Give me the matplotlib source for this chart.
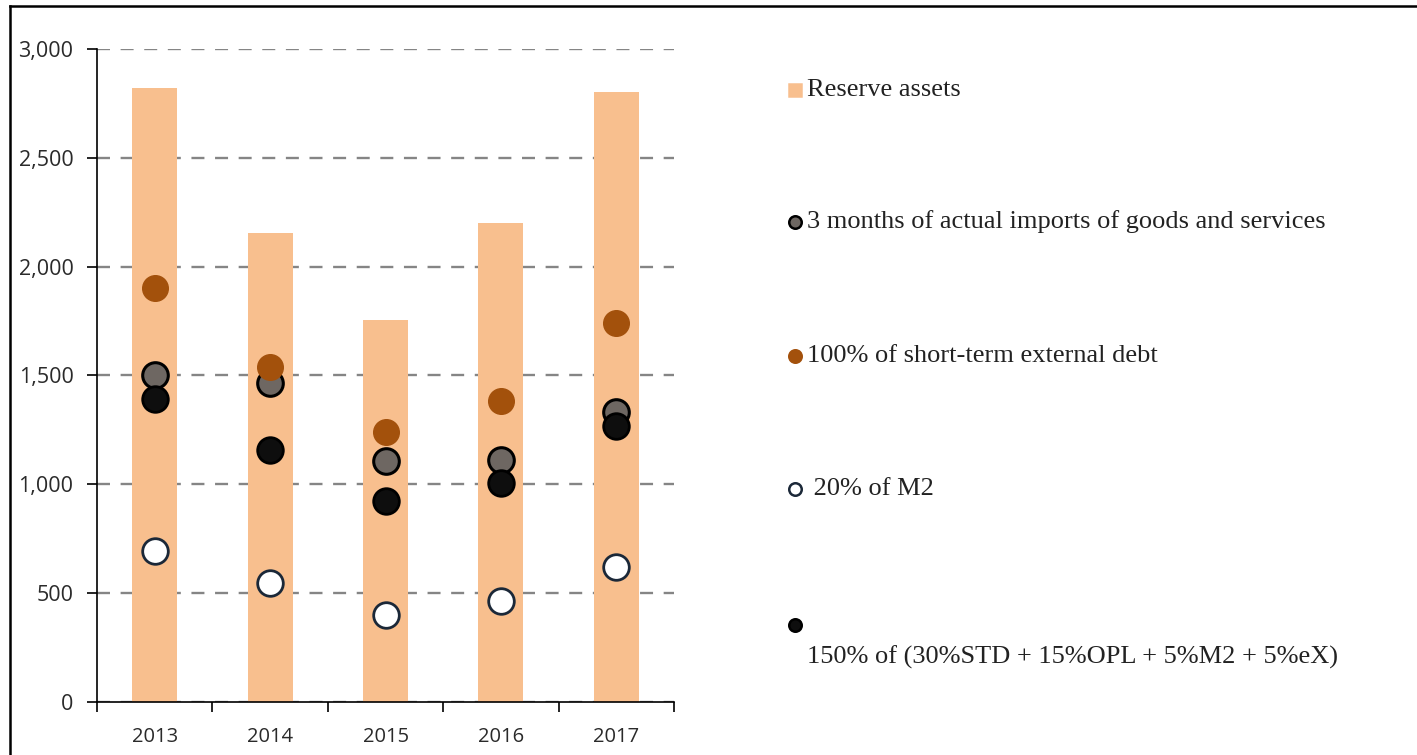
import numpy as np
import matplotlib
matplotlib.use('Agg')
import matplotlib.pyplot as plt
from matplotlib.lines import Line2D

# data
years = ['2013', '2014', '2015', '2016', '2017']
reserve_assets = [2820, 2155, 1755, 2200, 2802]
imports_3m = [1502, 1466, 1107, 1111, 1332]
short_term_debt = [1902, 1539, 1240, 1383, 1741]
m2_20pct = [694, 547, 400, 464, 620]
ara_150pct = [1392, 1158, 923, 1006, 1268]

labels = ['Reserve assets',
          '3 months of actual imports of goods and services',
          '100% of short-term external debt',
          ' 20% of M2',
          '150% of (30%STD + 15%OPL + 5%M2 + 5%eX)']

bar_color = '#F8BF8E'
gray_color = '#6E6762'
orange_color = '#A3510C'
black_color = '#0E0E0E'
navy_color = '#1B2838'

tick_font = 'Open Sans'
leg_font = 'Liberation Serif'

fig = plt.figure(figsize=(14.17, 7.55), dpi=100)
ax = fig.add_axes([0.0685, 0.0702, 0.4072, 0.8649])

x = np.arange(len(years))
ax.bar(x, reserve_assets, width=0.39, color=bar_color, zorder=2)

ms = 340
ax.scatter(x, imports_3m, s=ms, color=gray_color, edgecolors='black', linewidths=2.2, zorder=3)
ax.scatter(x, ara_150pct, s=ms, color=black_color, edgecolors='black', linewidths=2, zorder=4)
ax.scatter(x, m2_20pct, s=ms, color='white', edgecolors=navy_color, linewidths=2, zorder=4)
ax.scatter(x, short_term_debt, s=ms, color=orange_color, edgecolors=orange_color, linewidths=1, zorder=5)

ax.set_xlim(-0.5, 4.5)
ax.set_ylim(0, 3000)
ax.set_yticks(range(0, 3001, 500))
ax.set_yticklabels(['{:,}'.format(v) for v in range(0, 3001, 500)])
ax.yaxis.grid(True, linestyle=(0, (5.5, 4.5)), color='#858585', linewidth=1.7, zorder=1)
ax.set_axisbelow(True)

ax.set_xticks(x)
ax.set_xticklabels(years)
ax.set_xticks(np.arange(-0.5, 4.6, 1), minor=True)
ax.tick_params(axis='x', which='major', length=0, pad=18)
ax.tick_params(axis='x', which='minor', length=7, width=1.2, direction='out')
ax.tick_params(axis='y', length=7, width=1.2, direction='out', pad=10)
for lab in ax.get_xticklabels():
    lab.set_fontfamily(tick_font)
    lab.set_fontsize(14.5)
    lab.set_color('#2a2a2a')
for lab in ax.get_yticklabels():
    lab.set_fontfamily(tick_font)
    lab.set_fontsize(15.5)
    lab.set_color('#2a2a2a')

ax.spines['top'].set_visible(False)
ax.spines['right'].set_visible(False)
ax.spines['left'].set_linewidth(1.2)
ax.spines['bottom'].set_linewidth(1.2)

# legend drawn by hand on an overlay in pixel units
ov = fig.add_axes([0, 0, 1, 1], facecolor='none')
ov.set_xlim(0, 1417)
ov.set_ylim(755, 0)
ov.axis('off')

# frame around the figure (top and left edges visible)
ov.plot([10, 1417], [6, 6], color='black', linewidth=1.8)
ov.plot([10, 10], [6, 755], color='black', linewidth=1.8)

handles = [
    dict(marker='s', color=bar_color, mec=bar_color),
    dict(marker='o', color=gray_color, mec='black'),
    dict(marker='o', color=orange_color, mec=orange_color),
    dict(marker='o', color='white', mec=navy_color),
    dict(marker='o', color=black_color, mec='black'),
]
rows = [90, 222, 356, 489, 625]
for i, (h, lab) in enumerate(zip(handles, labels)):
    ov.add_line(Line2D([795], [rows[i]], marker=h['marker'], markersize=9,
                       markerfacecolor=h['color'], markeredgecolor=h['mec'],
                       markeredgewidth=1.8, linestyle='none'))
    y = rows[i] if i < 4 else rows[i] + 32
    ov.text(807, y, lab, fontfamily=leg_font, fontsize=19,
            color='#222222', va='center', ha='left')

fig.savefig('out.png', dpi=100)
